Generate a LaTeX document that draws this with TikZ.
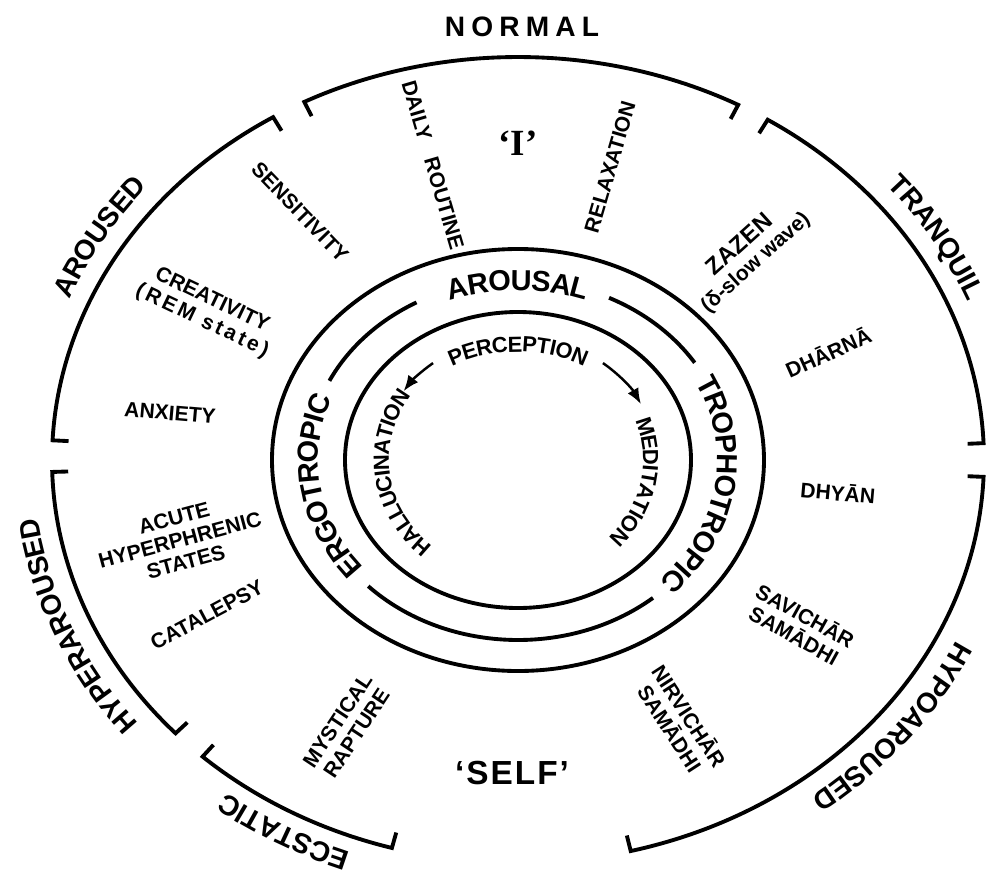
\documentclass[tikz,border=0pt]{standalone}
\usepackage{fontspec}
\setmainfont{Liberation Sans}
\newfontfamily\egofont{Liberation Serif}
\usetikzlibrary{arrows.meta,decorations.text}

\newcommand{\outerfont}{\fontsize{16}{18}\selectfont\bfseries}
\newcommand{\ringfont}{\fontsize{16.5}{18}\selectfont\bfseries}
\newcommand{\innerfont}{\fontsize{12.5}{14}\selectfont\bfseries}
\newcommand{\bracketarc}[2]{\draw[bracket] (#1:450 and 387) -- (#1:466 and 403) arc[start angle=#1, end angle=#2, x radius=466, y radius=403] -- (#2:450 and 387);}

\begin{document}
\begin{tikzpicture}[
    x=0.02cm, y=0.02cm,
    bracket/.style={line width=2.2pt},
    ring/.style={line width=2.2pt},
    arr/.style={line width=1.4pt, -{Latex[length=9pt, width=7pt]}},
    state/.style={font=\fontsize{12}{13}\selectfont\bfseries, align=center, inner sep=0pt},
    outerlabel/.style={decorate, decoration={text along path, text align=center, raise=-5.7pt, text={|\outerfont|#1}}},
    ringlabel/.style={decorate, decoration={text along path, text align=center, raise=-5.9pt, text={|\ringfont|#1}}},
    innerlabel/.style={decorate, decoration={text along path, text align=center, raise=-4.5pt, text={|\innerfont|#1}}}
]
\useasboundingbox (-518,-413) rectangle (475,460);

\bracketarc{117.3}{61.8}
\bracketarc{57.6}{2.4}
\bracketarc{177.2}{121.7}
\bracketarc{181.7}{222.7}
\bracketarc{227.4}{254.3}
\bracketarc{284}{357.6}

\node[font=\outerfont] (normal) at (4,433) {\addfontfeature{LetterSpace=22}NORMAL};
\path[outerlabel=AROUSED] (190:495 and 433) arc[start angle=190, end angle=110, x radius=495, y radius=433];
\path[outerlabel=TRANQUIL] (70:495 and 433) arc[start angle=70, end angle=-10, x radius=495, y radius=433];
\path[outerlabel=HYPERAROUSED] (247:495 and 433) arc[start angle=247, end angle=157, x radius=495, y radius=433];
\path[outerlabel=HYPOAROUSED] (7:495 and 433) arc[start angle=7, end angle=-82, x radius=495, y radius=433];
\path[outerlabel=ECSTATIC] (280:492 and 428) arc[start angle=280, end angle=200, x radius=492, y radius=428];

\node[font=\egofont\fontsize{21}{22}\selectfont\bfseries] (ego) at (0,317) {‘I’};
\node[font=\fontsize{19}{20}\selectfont\bfseries] (self) at (-6,-313) {\addfontfeature{LetterSpace=6}‘SELF’};

\node[state, rotate=-73.6] (routine) at (-85,295) {DAILY\hspace{0.6em} ROUTINE};
\node[state, rotate=73.7] (relax) at (92,293) {RELAXATION};
\node[state, rotate=-46] (sensit) at (-218,248) {SENSITIVITY};
\node[state, rotate=-25.5] (creat) at (-311,149) {CREATIVITY\\{\addfontfeature{LetterSpace=15}(REM state)}};
\node[state, rotate=-5] (anx) at (-348,47) {ANXIETY};
\node[state, rotate=15] (acute) at (-338,-80) {ACUTE\\HYPERPHRENIC\\STATES};
\node[state, rotate=28] (catal) at (-311,-155) {CATALEPSY};
\node[state, rotate=56.5] (rapture) at (-171,-267) {MYSTICAL\\RAPTURE};
\node[state, rotate=42] (zazen) at (230,206) {{\fontsize{13.5}{14}\selectfont ZAZEN}\\(δ-slow wave)};
\node[state, rotate=24] (dharna) at (310,108) {DHĀRNĀ};
\node[state, rotate=-5] (dhyan) at (320,-32) {DHYĀN};
\node[state, rotate=-29] (savichar) at (282,-165) {SAVICHĀR\\SAMĀDHI};
\node[state, rotate=-57] (nirvichar) at (162,-262) {NIRVICHĀR\\SAMĀDHI};

\draw[ring] (0,0) ellipse[x radius=246, y radius=211];
\draw[ring] (0,0) ellipse[x radius=173, y radius=148];
\draw[ring] (153.9:210 and 180) arc[start angle=153.9, end angle=118.9, x radius=210, y radius=180];
\draw[ring] (64.3:210 and 180) arc[start angle=64.3, end angle=32.7, x radius=210, y radius=180];
\draw[ring] (224.5:210 and 180) arc[start angle=224.5, end angle=310, x radius=210, y radius=180];

\path[ringlabel=AROUSAL] (150:210 and 180) arc[start angle=150, end angle=30, x radius=210, y radius=180];
\path[ringlabel=ERGOTROPIC] (240:210 and 180) arc[start angle=240, end angle=137, x radius=210, y radius=180];
\path[ringlabel=TROPHOTROPIC] (50:210 and 180) arc[start angle=50, end angle=-67, x radius=210, y radius=180];

\path[innerlabel=PERCEPTION] (150:140 and 116) arc[start angle=150, end angle=30, x radius=140, y radius=116];
\path[innerlabel=HALLUCINATION] (247:137 and 122) arc[start angle=247, end angle=127, x radius=137, y radius=122];
\path[innerlabel=MEDITATION] (49:133 and 120) arc[start angle=49, end angle=-71, x radius=133, y radius=120];

\coordinate (percL) at (128:138 and 123);
\coordinate (percR) at (52:138 and 123);
\draw[arr] (percL) arc[start angle=128, end angle=146, x radius=138, y radius=123];
\draw[arr] (percR) arc[start angle=52, end angle=27, x radius=138, y radius=123];
\end{tikzpicture}
\end{document}
